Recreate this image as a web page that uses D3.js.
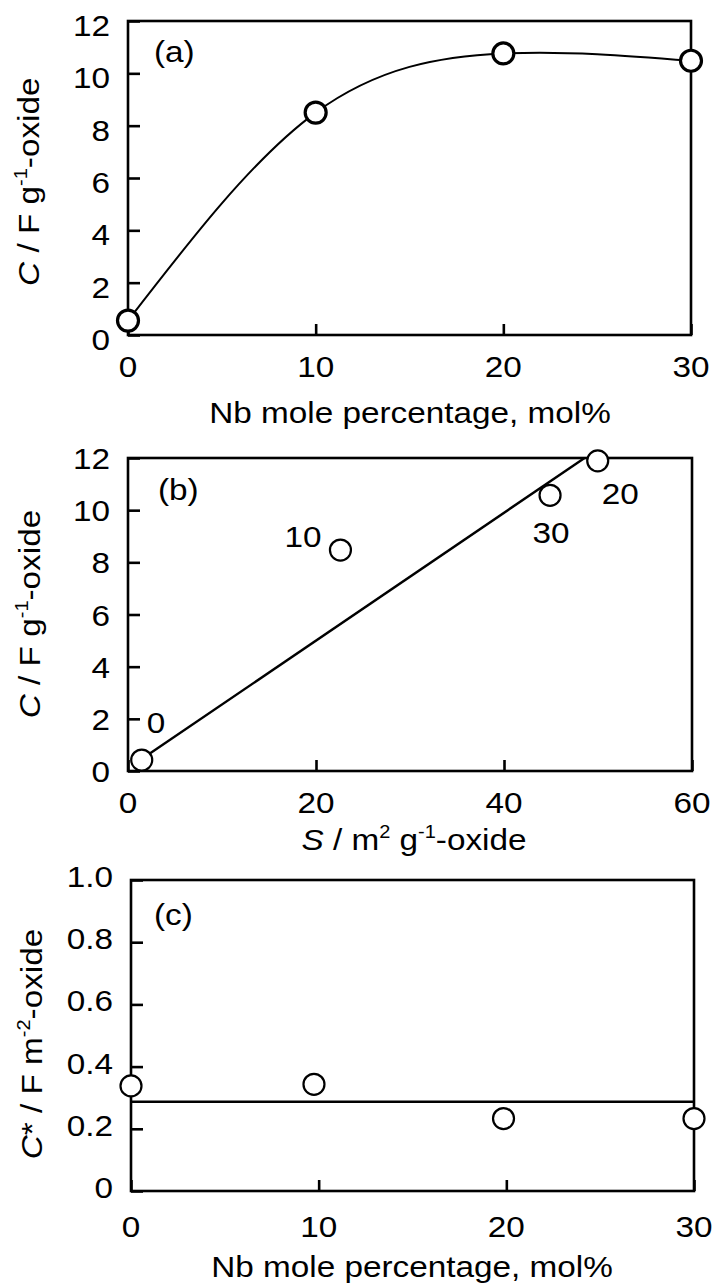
<!DOCTYPE html>
<html>
<head>
<meta charset="utf-8">
<script src="https://cdn.jsdelivr.net/npm/d3@7"></script>
<style>
  body { margin: 0; background: #fff; }
  svg text { font-family: "Liberation Sans", Arial, Helvetica, sans-serif; fill: #000; }
</style>
</head>
<body>
<svg id="fig" width="712" height="1285"></svg>
<script>
// ---- data ----
// (a) specific capacitance against Nb content
const nbMolA = [0, 10, 20, 30];
const capA = [0.55, 8.5, 10.76, 10.48];

// (b) specific capacitance against specific surface area, labelled by Nb mol%
const surfaceB = [1.46, 22.6, 49.97, 44.9];
const capB = [0.42, 8.47, 11.89, 10.57];
const labelsB = ["0", "10", "20", "30"];
const fitSlope = 0.245;
const fitIntercept = 0.1;

// (c) capacitance per unit area against Nb content
const nbMolC = [0, 9.75, 19.85, 30];
const capC = [0.338, 0.343, 0.233, 0.233];

// tick values
const xTicksMol = [0, 10, 20, 30];
const xTicksS = [0, 20, 40, 60];
const yTicksC = [0, 2, 4, 6, 8, 10, 12];
const yTicksCstar = [0, 0.2, 0.4, 0.6, 0.8, 1.0];

// ---- drawing helpers ----
const svg = d3.select("#fig");
const FS = 30;     // font size
const SX = 1.11;   // horizontal glyph stretch

function txt(g, x, y, anchor, rotate) {
  return g.append("text")
    .attr("transform", `translate(${x},${y})` + (rotate ? " rotate(-90)" : "") + ` scale(${SX},1)`)
    .attr("text-anchor", anchor)
    .attr("font-size", FS);
}
function sup(t, s) {
  t.append("tspan").attr("font-size", 18).attr("dy", -12).text(s);
  return t.append("tspan").attr("dy", 12);
}

function panel(box, xDom, yDom, xTicks, yTicks, yFmt, opts) {
  const g = svg.append("g");
  const x = d3.scaleLinear().domain(xDom).range([box.l, box.r]);
  const y = d3.scaleLinear().domain(yDom).range([box.b, box.t]);

  // frame
  g.append("rect")
    .attr("x", box.l).attr("y", box.t)
    .attr("width", box.r - box.l).attr("height", box.b - box.t)
    .attr("fill", "none").attr("stroke", "#000").attr("stroke-width", 2.6);

  // inward ticks
  const yAx = g.append("g").attr("transform", `translate(${box.l},0)`)
    .call(d3.axisLeft(y).tickValues(yTicks).tickSizeInner(-12).tickSizeOuter(0).tickFormat(""));
  const xAx = g.append("g").attr("transform", `translate(0,${box.b})`)
    .call(d3.axisBottom(x).tickValues(xTicks).tickSizeInner(-11).tickSizeOuter(0).tickFormat(""));
  [yAx, xAx].forEach(a => {
    a.select(".domain").remove();
    a.selectAll("line").attr("stroke", "#000").attr("stroke-width", 2.6);
  });

  // tick labels
  yTicks.forEach(v => txt(g, box.l - 18, y(v) + opts.yLabDy, "end").text(yFmt(v)));
  xTicks.forEach(v => txt(g, x(v), box.b + opts.xLabDy, "middle").text(v));

  return { g, x, y };
}

// ---- (a) ----
const A = panel({ l: 128, r: 691, t: 21, b: 335 }, [0, 30], [0, 12],
  xTicksMol, yTicksC, d => d, { yLabDy: 15, xLabDy: 42 });
const ptsA = nbMolA.map((v, i) => [v, capA[i]]);
A.g.append("path")
  .attr("d", d3.line().x(d => A.x(d[0])).y(d => A.y(d[1])).curve(d3.curveNatural)(ptsA))
  .attr("fill", "none").attr("stroke", "#000").attr("stroke-width", 2);
A.g.selectAll("circle").data(ptsA).join("circle")
  .attr("cx", d => A.x(d[0])).attr("cy", d => A.y(d[1])).attr("r", 10.5)
  .attr("fill", "#fff").attr("stroke", "#000").attr("stroke-width", 3.2);
txt(A.g, 154, 62, "start").text("(a)");
{
  const t = txt(A.g, 38.5, 181.7, "middle", true);
  t.append("tspan").attr("font-style", "italic").text("C");
  t.append("tspan").text(" / F g");
  sup(t, "-1").text("-oxide");
}
txt(A.g, 410, 422.7, "middle").text("Nb mole percentage, mol%");

// ---- (b) ----
const B = panel({ l: 128, r: 692, t: 458, b: 771 }, [0, 60], [0, 12],
  xTicksS, yTicksC, d => d, { yLabDy: 11, xLabDy: 42 });
const sStart = d3.min(surfaceB);
const sEnd = (12 - fitIntercept) / fitSlope;
B.g.append("line")
  .attr("x1", B.x(sStart)).attr("y1", B.y(fitIntercept + fitSlope * sStart))
  .attr("x2", B.x(sEnd)).attr("y2", B.y(fitIntercept + fitSlope * sEnd))
  .attr("stroke", "#000").attr("stroke-width", 2.4);
const ptsB = surfaceB.map((v, i) => ({ s: v, c: capB[i], lab: labelsB[i] }));
B.g.selectAll("circle").data(ptsB).join("circle")
  .attr("cx", d => B.x(d.s)).attr("cy", d => B.y(d.c)).attr("r", 10.5)
  .attr("fill", "#fff").attr("stroke", "#000").attr("stroke-width", 2.2);
// point label placement relative to each marker
const labOffset = {
  "0":  { dx: 5,   dy: -27, anchor: "start" },
  "10": { dx: -19, dy: -3,  anchor: "end" },
  "20": { dx: 4,   dy: 43,  anchor: "start" },
  "30": { dx: 1,   dy: 48,  anchor: "middle" }
};
ptsB.forEach(d => {
  const o = labOffset[d.lab];
  txt(B.g, B.x(d.s) + o.dx, B.y(d.c) + o.dy, o.anchor).text(d.lab);
});
txt(B.g, 158, 500, "start").text("(b)");
{
  const t = txt(B.g, 40, 614, "middle", true);
  t.append("tspan").attr("font-style", "italic").text("C");
  t.append("tspan").text(" / F g");
  sup(t, "-1").text("-oxide");
}
{
  const t = txt(B.g, 414, 850, "middle");
  t.append("tspan").attr("font-style", "italic").text("S");
  t.append("tspan").text(" / m");
  sup(t, "2").text(" g");
  sup(t, "-1").text("-oxide");
}

// ---- (c) ----
const C = panel({ l: 131, r: 694, t: 880, b: 1191 }, [0, 30], [0, 1],
  xTicksMol, yTicksCstar, d => (d === 0 ? "0" : d3.format(".1f")(d)), { yLabDy: 7, xLabDy: 46 });
const meanC = d3.mean(capC);
C.g.append("line")
  .attr("x1", C.x(0)).attr("x2", C.x(30))
  .attr("y1", C.y(meanC)).attr("y2", C.y(meanC))
  .attr("stroke", "#000").attr("stroke-width", 2.4);
const ptsC = nbMolC.map((v, i) => [v, capC[i]]);
C.g.selectAll("circle").data(ptsC).join("circle")
  .attr("cx", d => C.x(d[0])).attr("cy", d => C.y(d[1])).attr("r", 10.5)
  .attr("fill", "#fff").attr("stroke", "#000").attr("stroke-width", 2.2);
txt(C.g, 154, 925, "start").text("(c)");
{
  const t = txt(C.g, 41.7, 1044, "middle", true);
  t.append("tspan").attr("font-style", "italic").text("C");
  t.append("tspan").text("* / F m");
  sup(t, "-2").text("-oxide");
}
txt(C.g, 412, 1276.7, "middle").text("Nb mole percentage, mol%");
</script>
</body>
</html>
